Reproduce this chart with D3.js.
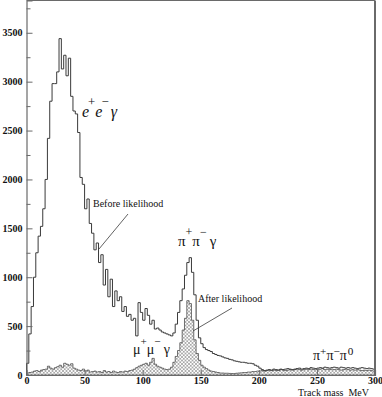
<!DOCTYPE html>
<html>
<head>
<meta charset="utf-8">
<script src="https://cdn.jsdelivr.net/npm/d3@7/dist/d3.min.js"></script>
<style>
  html, body { margin: 0; padding: 0; background: #fff; }
  svg { display: block; }
</style>
</head>
<body>
<div id="chart"></div>
<script>
// Track-mass histogram, before / after the likelihood cut.
// 2 MeV bins from 0 to 300 MeV.

const BIN_WIDTH = 2;

const beforeCounts = [
  120, 420, 700, 1000, 1250, 1420, 1520, 1700, 2000, 2420,   // 0-18
  2800, 2980, 2980, 3100, 3440, 3130, 3270, 3060, 3240, 2850, // 20-38
  2700, 2670, 2480, 2020, 1950, 1700, 1800, 1550, 1450, 1280, // 40-58
  1350, 1150, 1230, 920, 1080, 800, 980, 700, 860, 760,      // 60-78
  800, 650, 700, 600, 620, 560, 580, 400, 740, 640,          // 80-98
  560, 680, 610, 520, 560, 470, 480, 460, 440, 430,          // 100-118
  420, 410, 400, 430, 520, 640, 760, 880, 1020, 1150,        // 120-138
  1200, 1050, 820, 560, 380, 320, 280, 260, 250, 240,        // 140-158
  220, 210, 200, 195, 185, 175, 170, 160, 155, 145,          // 160-178
  140, 135, 130, 130, 125, 120, 120, 115, 100, 90,           // 180-198
  70, 55, 45, 50, 55, 50, 60, 55, 50, 60,                    // 200-218
  55, 60, 65, 60, 55, 60, 65, 70, 60, 65,                    // 220-238
  70, 65, 75, 70, 65, 70, 75, 70, 80, 75,                    // 240-258
  70, 75, 80, 75, 70, 80, 75, 70, 75, 70,                    // 260-278
  75, 70, 65, 70, 75, 70, 65, 70, 65, 60                     // 280-298
];

const afterCounts = [
  20, 25, 30, 40, 45, 35, 50, 55, 60, 90,
  70, 60, 75, 85, 100, 80, 120, 110, 100, 115,
  70, 60, 50, 45, 60, 40, 50, 30, 35, 40,
  30, 35, 25, 45, 30, 35, 25, 40, 30, 25,
  35, 30, 40, 35, 45, 50, 60, 75, 90, 100,
  110, 120, 100, 130, 170, 110, 90, 80, 70, 60,
  55, 60, 80, 130, 190, 250, 330, 460, 580, 760,
  730, 560, 360, 220, 150, 100, 80, 65, 50, 40,
  35, 30, 25, 20, 20, 18, 18, 16, 15, 15,
  18, 20, 22, 25, 25, 30, 30, 35, 35, 40,
  40, 45, 40, 45, 50, 45, 50, 45, 50, 55,
  50, 45, 50, 55, 50, 55, 60, 55, 50, 55,
  60, 55, 60, 55, 60, 55, 60, 65, 55, 60,
  55, 60, 55, 60, 55, 50, 55, 60, 55, 50,
  55, 50, 55, 50, 45, 50, 45, 50, 45, 40
];

const xTicks = [0, 50, 100, 150, 200, 250, 300];
const yTicks = [0, 500, 1000, 1500, 2000, 2500, 3000, 3500];
const yMinorTicks = [250, 750, 1250, 1750, 2250, 2750, 3250, 3750];

const W = 382, H = 397;
const PLOT = { left: 26.5, right: 375, top: 0.5, bottom: 375 };
const AXIS_COLOR = "#6a6a6a";
const LINE_COLOR = "#3a3a3a";
const SERIF = "'Liberation Serif', 'DejaVu Serif', serif";

const x = d3.scaleLinear().domain([0, 300]).range([PLOT.left, PLOT.right]);
const y = d3.scaleLinear().domain([0, 3830]).range([PLOT.bottom, PLOT.top]);

const svg = d3.select("#chart").append("svg")
  .attr("width", W)
  .attr("height", H)
  .attr("viewBox", `0 0 ${W} ${H}`);

// cross-hatch for the after-likelihood fill
const pat = svg.append("defs").append("pattern")
  .attr("id", "xhatch")
  .attr("patternUnits", "userSpaceOnUse")
  .attr("width", 3.5)
  .attr("height", 3.5);
pat.append("path")
  .attr("d", "M0,0 L3.5,3.5 M3.5,0 L0,3.5")
  .attr("stroke", "#808080")
  .attr("stroke-width", 0.6);

// points for a step curve: (edge, value) per bin, closed at the last edge
function stepPoints(counts) {
  const pts = counts.map((v, i) => [i * BIN_WIDTH, v]);
  pts.push([counts.length * BIN_WIDTH, counts.at(-1)]);
  return pts;
}

const area = d3.area()
  .x(d => x(d[0]))
  .y0(y(0))
  .y1(d => y(d[1]))
  .curve(d3.curveStepAfter);

const line = d3.line()
  .x(d => x(d[0]))
  .y(d => y(d[1]))
  .curve(d3.curveStepAfter);

svg.append("path")
  .attr("d", area(stepPoints(afterCounts)))
  .attr("fill", "url(#xhatch)")
  .attr("stroke", LINE_COLOR)
  .attr("stroke-width", 0.7);

svg.append("path")
  .attr("d", line([[0, 0], ...stepPoints(beforeCounts)]))
  .attr("fill", "none")
  .attr("stroke", LINE_COLOR)
  .attr("stroke-width", 1);

// frame
svg.append("line")
  .attr("x1", PLOT.left).attr("x2", PLOT.right)
  .attr("y1", PLOT.top).attr("y2", PLOT.top)
  .attr("stroke", AXIS_COLOR).attr("stroke-width", 1);
svg.append("line")
  .attr("x1", PLOT.right).attr("x2", PLOT.right)
  .attr("y1", PLOT.top).attr("y2", PLOT.bottom)
  .attr("stroke", AXIS_COLOR).attr("stroke-width", 2);

const gy = svg.append("g").attr("transform", `translate(${PLOT.left},0)`)
  .call(d3.axisLeft(y).tickValues(yTicks).tickSize(-6).tickPadding(4).tickFormat(d3.format("d")));
svg.append("g").attr("transform", `translate(${PLOT.left},0)`)
  .call(d3.axisLeft(y).tickValues(yMinorTicks).tickSize(-4).tickFormat(""))
  .select(".domain").remove();

const gx = svg.append("g").attr("transform", `translate(0,${PLOT.bottom})`)
  .call(d3.axisBottom(x).tickValues(xTicks).tickSize(-5).tickPadding(2).tickFormat(d3.format("d")));

[gy, gx].forEach(g => {
  g.select(".domain").attr("stroke", AXIS_COLOR).attr("stroke-width", 1.2);
  g.selectAll("text")
    .attr("fill", "#111")
    .attr("font-family", SERIF)
    .attr("font-weight", 700)
    .attr("font-size", 10);
});
svg.selectAll(".tick line").attr("stroke", AXIS_COLOR);
gx.selectAll(".tick").filter(d => d === 0).select("line").remove();

// axis title
svg.append("text")
  .attr("x", 298).attr("y", 396)
  .attr("font-family", SERIF).attr("font-size", 10).attr("fill", "#111")
  .attr("xml:space", "preserve")
  .text("Track mass  MeV");

// physics labels with superscripts
function physLabel(px, py, parts, size) {
  const t = svg.append("text")
    .attr("x", px).attr("y", py)
    .attr("font-family", SERIF)
    .attr("font-size", size)
    .attr("fill", "#111");
  parts.forEach(p => {
    const s = t.append("tspan").text(p.t);
    if (p.sup) s.attr("dy", p.sup);
    if (p.small) s.attr("font-size", size * 0.8);
    if (p.dx) s.attr("dx", p.dx);
    if (p.it) s.attr("font-style", "italic");
  });
  return t;
}

physLabel(82, 117, [
  { t: "e", it: true },
  { t: "+", sup: -11, small: true, dx: -1 },
  { t: "e", it: true, sup: 11 },
  { t: "\u2212", sup: -11, small: true, dx: -1 },
  { t: "\u03b3", sup: 11, dx: 2, it: true }
], 16);

physLabel(178, 246, [
  { t: "\u03c0" },
  { t: "+", sup: -10, small: true },
  { t: "\u03c0", sup: 10 },
  { t: "\u2212", sup: -10, small: true },
  { t: "\u03b3", sup: 10, dx: 3 }
], 15);

physLabel(133, 354, [
  { t: "\u03bc" },
  { t: "+", sup: -9, small: true },
  { t: "\u03bc", sup: 9 },
  { t: "\u2212", sup: -9, small: true },
  { t: "\u03b3", sup: 9, dx: 3 }
], 14);

physLabel(313, 360, [
  { t: "\u03c0" },
  { t: "+", sup: -5, small: true },
  { t: "\u03c0", sup: 5 },
  { t: "\u2212", sup: -5, small: true },
  { t: "\u03c0", sup: 5 },
  { t: "0", sup: -5, dx: 1, small: true }
], 14);

// annotations with leader lines
svg.append("text")
  .attr("x", 93).attr("y", 207)
  .attr("font-family", SERIF).attr("font-size", 10).attr("fill", "#111")
  .text("Before likelihood");
svg.append("line")
  .attr("x1", 128).attr("y1", 214).attr("x2", 99).attr("y2", 249)
  .attr("stroke", LINE_COLOR).attr("stroke-width", 0.8);

svg.append("text")
  .attr("x", 198).attr("y", 302)
  .attr("font-family", SERIF).attr("font-size", 10).attr("fill", "#111")
  .text("After likelihood");
svg.append("line")
  .attr("x1", 232).attr("y1", 308).attr("x2", 193).attr("y2", 331)
  .attr("stroke", LINE_COLOR).attr("stroke-width", 0.8);
</script>
</body>
</html>
